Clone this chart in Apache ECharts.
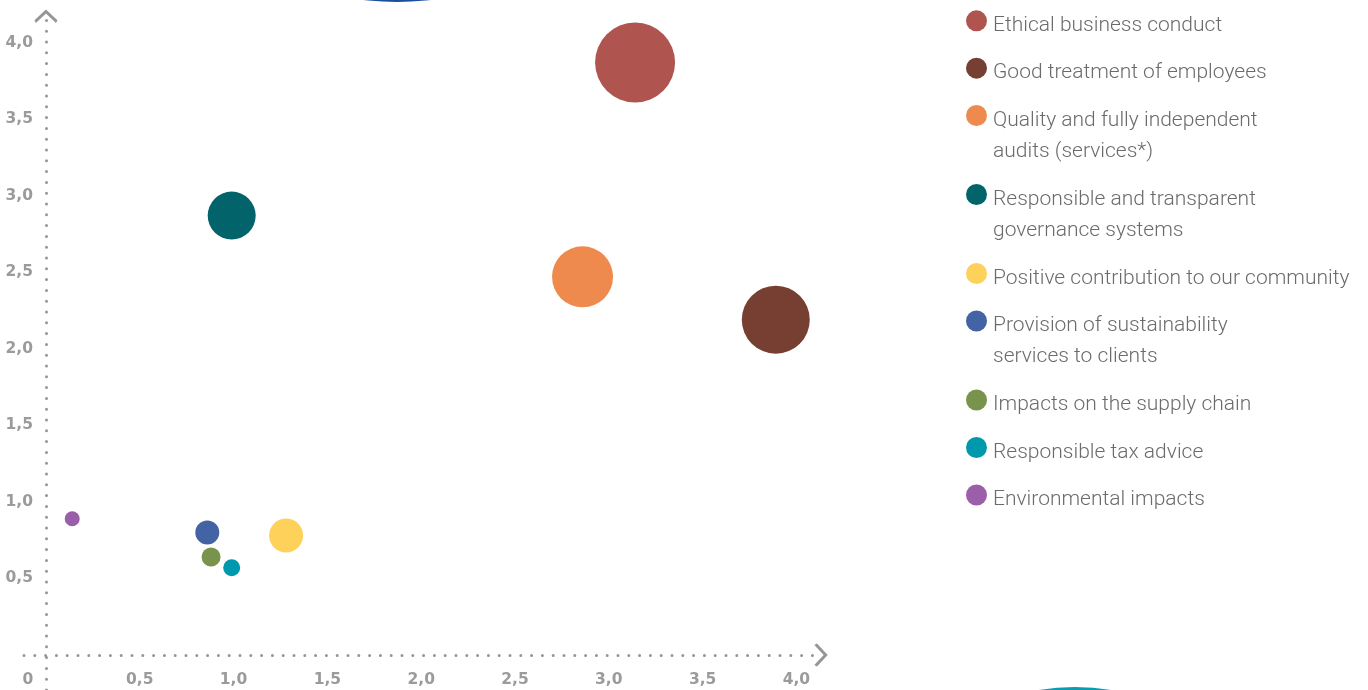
<!DOCTYPE html>
<html><head><meta charset="utf-8">
<script src="https://cdn.jsdelivr.net/npm/echarts@6/dist/echarts.min.js"></script>
<style>html,body{margin:0;padding:0;background:#fff;overflow:hidden}#c{width:1368px;height:690px}</style>
</head><body><div id="c"></div>
<script>
// ---- data ----
const names = [
  'Ethical business conduct',
  'Good treatment of employees',
  'Quality and fully independent audits (services*)',
  'Responsible and transparent governance systems',
  'Positive contribution to our community',
  'Provision of sustainability services to clients',
  'Impacts on the supply chain',
  'Responsible tax advice',
  'Environmental impacts'
];
const legendLines = [
  ['Ethical business conduct'],
  ['Good treatment of employees'],
  ['Quality and fully independent', 'audits (services*)'],
  ['Responsible and transparent', 'governance systems'],
  ['Positive contribution to our community'],
  ['Provision of sustainability', 'services to clients'],
  ['Impacts on the supply chain'],
  ['Responsible tax advice'],
  ['Environmental impacts']
];
const xValues = [3.14, 3.89, 2.86, 0.99, 1.28, 0.86, 0.88, 0.99, 0.14];
const yValues = [3.87, 2.19, 2.47, 2.87, 0.78, 0.80, 0.64, 0.57, 0.89];
const weights = [80, 68, 61, 48, 34, 24, 19, 17, 15];
const colors = ['#b05450', '#763f31', '#ef8a4e', '#03636b', '#fed15b', '#4463a4', '#78944c', '#0098ad', '#9b5ea9'];
const xTicks = [0, 0.5, 1.0, 1.5, 2.0, 2.5, 3.0, 3.5, 4.0];
const yTicks = [0.5, 1.0, 1.5, 2.0, 2.5, 3.0, 3.5, 4.0];

// ---- styling ----
const axisColor = '#979597';
const labelColor = '#9c9a9c';
const chevron = 'path://M0,11.2L12,0L24,11.2L22.5,14L12,4.2L1.5,14Z';
const fmt = v => (v === 0 ? '{o|0}' : v.toFixed(1).replace('.', ','));
const labelFont = { fontFamily: 'DejaVu Sans', fontWeight: 'bold', fontSize: 15.5, color: labelColor };
const axisLine = {
  onZero: true,
  symbol: ['none', chevron],
  symbolSize: [23, 14],
  lineStyle: { color: axisColor, width: 3, type: [0, 10.8], cap: 'round' }
};

const series = names.map((n, i) => ({
  name: n,
  type: 'scatter',
  data: [[xValues[i], yValues[i], weights[i]]],
  symbolSize: d => d[2],
  itemStyle: { color: colors[i], opacity: 1 },
  emphasis: { disabled: true }
}));

const legendText = { fontFamily: 'Roboto', fontWeight: 300, fontSize: 21, color: '#6b6b6b', lineHeight: 31 };
const iconCenters = [20.8, 68.2, 115.5, 194.5, 273.5, 321, 400, 447.5, 495];
const legends = names.map((n, i) => {
  const two = legendLines[i].length > 1;
  const spacer = two ? 41 : 10;
  const boxH = (two ? 62 : 31) + spacer;
  return {
    orient: 'vertical',
    left: 966,
    top: iconCenters[i] - boxH / 2,
    padding: 0,
    itemWidth: 23,
    itemHeight: 21,
    icon: 'circle',
    selectedMode: false,
    data: [n],
    formatter: () => '{s| }\n' + legendLines[i].map(t => '{a|' + t + '}').join('\n'),
    textStyle: Object.assign({}, legendText, {
      rich: {
        s: { fontSize: 2, lineHeight: spacer },
        a: legendText
      }
    })
  };
});

const chart = echarts.init(document.getElementById('c'));
chart.setOption({
  animation: false,
  backgroundColor: '#fff',
  grid: { left: 24, top: 16.3, width: 797, height: 673.7, containLabel: false, outerBoundsMode: 'none' },
  xAxis: {
    type: 'value', min: -0.117, max: 4.131,
    axisLine: axisLine,
    axisTick: { show: false },
    splitLine: { show: false },
    axisLabel: Object.assign({
      customValues: xTicks, formatter: fmt, margin: -18.5,
      rich: { o: Object.assign({ padding: [0, 36, 0, 0] }, labelFont) }
    }, labelFont)
  },
  yAxis: {
    type: 'value', min: -0.229, max: 4.172,
    axisLine: axisLine,
    axisTick: { show: false },
    splitLine: { show: false },
    axisLabel: Object.assign({ customValues: yTicks, formatter: fmt, margin: -9, padding: [4, 0, 0, 0] }, labelFont)
  },
  legend: legends,
  graphic: [
    { type: 'circle', shape: { cx: 397, cy: -288, r: 290 }, style: { fill: '#1b4f9b' }, silent: true },
    { type: 'circle', shape: { cx: 1075, cy: 906, r: 219 }, style: { fill: '#0b9caf' }, silent: true }
  ],
  series: series
});
</script></body></html>
